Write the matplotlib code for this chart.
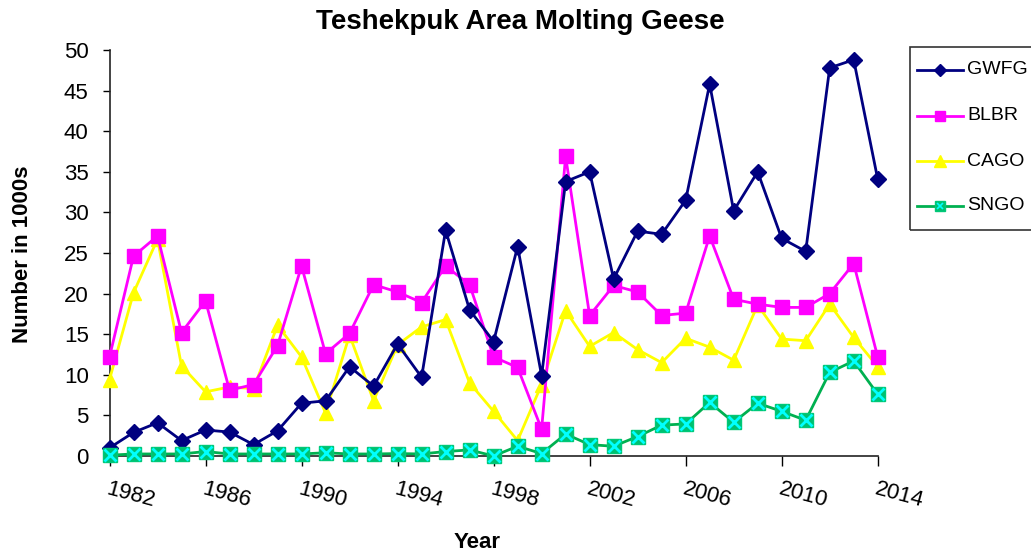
import matplotlib
matplotlib.use("Agg")
import matplotlib.pyplot as plt
from matplotlib.lines import Line2D
from matplotlib.patches import Rectangle

plt.rcParams["font.family"] = ["Liberation Sans", "DejaVu Sans"]

years = list(range(1982, 2015))
gwfg = [1.0, 2.9, 4.1, 1.9, 3.2, 2.95, 1.4, 3.1, 6.5, 6.8, 11.0, 8.6, 13.8, 9.7, 27.8,
        18.0, 14.1, 25.8, 9.9, 33.8, 35.0, 21.8, 27.7, 27.3, 31.5, 45.8, 30.2, 35.0,
        26.8, 25.2, 47.8, 48.8, 34.1]
blbr = [12.2, 24.6, 27.1, 15.2, 19.1, 8.1, 8.8, 13.6, 23.4, 12.6, 15.1, 21.1, 20.2, 18.9,
        23.4, 21.1, 12.2, 10.9, 3.3, 36.9, 17.3, 21.0, 20.2, 17.3, 17.6, 27.1, 19.3,
        18.7, 18.3, 18.3, 20.0, 23.7, 12.2]
cago = [9.4, 20.1, 26.7, 11.1, 7.9, 8.5, 8.3, 16.1, 12.2, 5.3, 14.9, 6.8, 13.7, 15.9,
        16.8, 9.0, 5.5, 1.9, 8.8, 17.9, 13.5, 15.2, 13.1, 11.5, 14.5, 13.4, 11.8, 18.6,
        14.4, 14.2, 18.7, 14.6, 11.0]
sngo = [0.1, 0.25, 0.25, 0.25, 0.55, 0.25, 0.25, 0.25, 0.25, 0.4, 0.25, 0.25, 0.3, 0.25,
        0.55, 0.75, 0.0, 1.2, 0.3, 2.7, 1.4, 1.2, 2.4, 3.8, 3.95, 6.6, 4.15, 6.5, 5.5,
        4.4, 10.3, 11.7, 7.6]
x_ticks = list(range(1982, 2015, 4))
series_names = ["GWFG", "BLBR", "CAGO", "SNGO"]

W, H = 1031, 552
fig = plt.figure(figsize=(W / 100, H / 100), dpi=100)
ax = fig.add_axes([109.5 / W, 1 - 456 / H, (877.7 - 109.5) / W, 406 / H])

styles = [
    dict(color="#000080", marker="D", mfc="#000080", mec="#000080"),
    dict(color="#FF00FF", marker="s", mfc="#FF00FF", mec="#FF00FF"),
    dict(color="#FFFF00", marker="^", mfc="#FFFF00", mec="#FFFF00"),
    dict(color="#00B050", marker="s", mfc="#00C070", mec="#00C878"),
]
sizes = [8, 10, 10, 10]
zord = [5, 4, 3, 6]
for vals, st, ms, z in zip([gwfg, blbr, cago, sngo], styles, sizes, zord):
    ax.plot(years, vals, lw=2, ms=ms, zorder=z, clip_on=False, **st)
ax.plot(years, sngo, ls="none", marker="x", ms=8, mew=2, color="#00FFFF", zorder=7, clip_on=False)

ax.set_xlim(1982, 2014)
ax.set_ylim(0, 50)
ax.set_yticks(range(0, 51, 5))
ax.set_xticks(x_ticks)
ax.set_xticklabels([str(y) for y in x_ticks], rotation=-15, ha="left", va="top",
                   fontsize=16, rotation_mode="anchor")
ax.tick_params(axis="y", labelsize=16, length=5, width=1, direction="out", pad=10)
ax.tick_params(axis="x", length=7, width=1, direction="out", pad=9)
for side in ["top", "right"]:
    ax.spines[side].set_visible(False)
for side in ["left", "bottom"]:
    ax.spines[side].set_color("#222222")
    ax.spines[side].set_linewidth(1.2)

fig.text(0.505, 1 - 22 / H, "Teshekpuk Area Molting Geese", ha="center", va="center",
         fontsize=20, fontweight="bold")
fig.text(0.022, 0.54, "Number in 1000s", rotation=90, ha="center", va="center",
         fontsize=16, fontweight="bold")
fig.text(0.463, 0.018, "Year", ha="center", va="center", fontsize=16, fontweight="bold")

# legend drawn by hand so it can run off the right edge like the reference
fig.add_artist(Rectangle((910 / W, 1 - 230 / H), 130 / W, 183 / H, transform=fig.transFigure,
                         fill=False, edgecolor="#333333", lw=1.2, clip_on=False))
for name, st, ms, yp in zip(series_names, styles, [6, 7, 8, 7], [70, 116, 161, 206]):
    yf = 1 - yp / H
    fig.add_artist(Line2D([917 / W, 963 / W], [yf, yf], transform=fig.transFigure,
                          color=st["color"], lw=2))
    fig.add_artist(Line2D([940 / W], [yf], transform=fig.transFigure, ls="none",
                          marker=st["marker"], ms=ms, mfc=st["mfc"], mec=st["mec"]))
    if name == "SNGO":
        fig.add_artist(Line2D([940 / W], [yf], transform=fig.transFigure, ls="none",
                              marker="x", ms=5, mew=1.2, color="#00FFFF"))
    fig.text(967 / W, yf, name, ha="left", va="center", fontsize=14)

fig.savefig("out.png", dpi=100)
